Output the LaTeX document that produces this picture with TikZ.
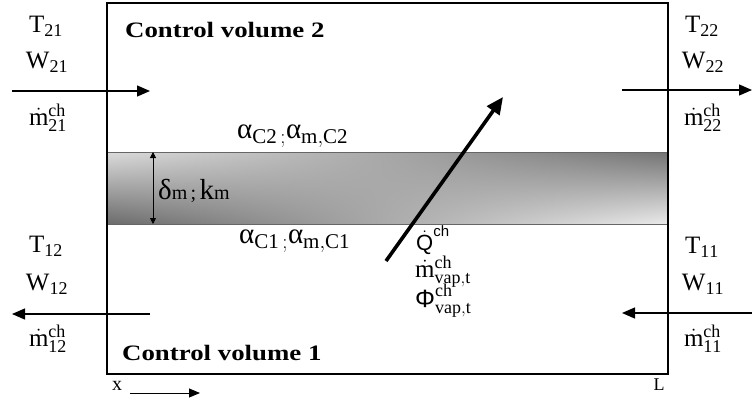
\documentclass[tikz,border=0pt]{standalone}
\usepackage{fontspec}
\setmainfont{Liberation Serif}
\setsansfont{Liberation Sans}
\newfontfamily\cvfont[FakeStretch=1.22]{Liberation Serif Bold}
\usetikzlibrary{arrows.meta,shadings}
\DeclareMathSizes{25}{25}{18}{14}
\DeclareMathSizes{29}{29}{21}{16}
\tikzset{
  lbl/.style={font=\fontsize{25}{28}\selectfont, inner sep=0pt},
  albl/.style={font=\fontsize{29}{32}\selectfont, inner sep=0pt},
  cvlbl/.style={font=\cvfont\fontsize{22}{24}\selectfont, inner sep=0pt, anchor=base west},
  flow/.style={line width=1.3pt, -{Triangle[length=13pt,width=11pt]}},
  heat/.style={line width=3.6pt, -{Triangle[length=17pt,width=15pt]}},
  thick2/.style={line width=0.8pt, {Triangle[length=6pt,width=6pt]}-{Triangle[length=6pt,width=6pt]}},
  axisarrow/.style={line width=0.9pt, -{Triangle[length=11pt,width=9pt]}},
}
\begin{document}
\begin{tikzpicture}[x=1pt,y=-1pt]
\useasboundingbox (0,0) rectangle (753,405);
% membrane band
\shade[shading=bilinear interpolation,
  upper left=black!14, lower left=black!58,
  upper right=black!55, lower right=black!8]
  (107,152) rectangle (668,224);
\draw[black!60, line width=0.8pt] (107,152) -- (668,152);
\draw[black!60, line width=0.8pt] (107,224) -- (668,224);
% control volume box
\draw[line width=1.3pt] (107,3) rectangle (668,374);

% coordinates
\coordinate (a21s) at (12,91);  \coordinate (a21e) at (150,91);
\coordinate (a22s) at (622,90); \coordinate (a22e) at (752,90);
\coordinate (a12s) at (150,314); \coordinate (a12e) at (12,314);
\coordinate (a11s) at (752,313); \coordinate (a11e) at (622,313);
\coordinate (qs) at (386,261); \coordinate (qe) at (503,97);
\coordinate (dt) at (153,152); \coordinate (db) at (153,224);
\coordinate (xs) at (130,393); \coordinate (xe) at (200,393);

\draw[flow] (a21s) -- (a21e);
\draw[flow] (a22s) -- (a22e);
\draw[flow] (a12s) -- (a12e);
\draw[flow] (a11s) -- (a11e);
\draw[heat] (qs) -- (qe);
\draw[thick2] (dt) -- (db);
\draw[axisarrow] (xs) -- (xe);

% labels left top
\node[lbl] (T21) at (46,26) {T$_{\mathrm{21}}$};
\node[lbl] (W21) at (47,62) {W$_{\mathrm{21}}$};
\node[lbl] (m21) at (48,118) {$\dot{\mathrm{m}}^{\mathrm{ch}}_{\mathrm{21}}$};
% right top
\node[lbl] (T22) at (702,26) {T$_{\mathrm{22}}$};
\node[lbl] (W22) at (703,62) {W$_{\mathrm{22}}$};
\node[lbl] (m22) at (703,118) {$\dot{\mathrm{m}}^{\mathrm{ch}}_{\mathrm{22}}$};
% left bottom
\node[lbl] (T12) at (46,246) {T$_{\mathrm{12}}$};
\node[lbl] (W12) at (47,284) {W$_{\mathrm{12}}$};
\node[lbl] (m12) at (48,339) {$\dot{\mathrm{m}}^{\mathrm{ch}}_{\mathrm{12}}$};
% right bottom
\node[lbl] (T11) at (702,247) {T$_{\mathrm{11}}$};
\node[lbl] (W11) at (703,284) {W$_{\mathrm{11}}$};
\node[lbl] (m11) at (703,339) {$\dot{\mathrm{m}}^{\mathrm{ch}}_{\mathrm{11}}$};

% control volumes
\node[cvlbl] (cv2) at (125,37) {Control volume 2};
\node[cvlbl] (cv1) at (122,360) {Control volume 1};

% heat transfer coefficients
\node[albl, anchor=west] (aC2) at (237,136) {$\mbox{α}_{\mathrm{C2\,;}}\mbox{α}_{\mathrm{m,C2}}$};
\node[albl, anchor=west] (aC1) at (239,241) {$\mbox{α}_{\mathrm{C1\,;}}\mbox{α}_{\mathrm{m,C1}}$};

% membrane properties
\node[inner sep=0pt, anchor=base west, font=\fontsize{29}{30}\selectfont] (dk) at (158,199)
  {δ{\fontsize{20}{22}\selectfont m\,;\,}k{\fontsize{20}{22}\selectfont m}};

% fluxes
\node[inner sep=0pt, anchor=west, font=\sffamily\fontsize{22}{24}\selectfont] (Q) at (416,240)
  {$\dot{\mbox{\sffamily Q}}^{\mbox{\sffamily\fontsize{15}{16}\selectfont ch}}$};
\node[lbl, anchor=west] (mv) at (415,272) {$\dot{\mathrm{m}}^{\mathrm{ch}}_{\mathrm{vap,t}}$};
\node[lbl, anchor=west] (phi) at (415,301) {$\mbox{\sffamily Φ}^{\mathrm{ch}}_{\mathrm{vap,t}}$};

% axis
\node[inner sep=0pt, font=\fontsize{20}{22}\selectfont] (xl) at (117,386) {x};
\node[inner sep=0pt, font=\fontsize{18}{20}\selectfont] (Ll) at (659,385) {L};
\end{tikzpicture}
\end{document}
